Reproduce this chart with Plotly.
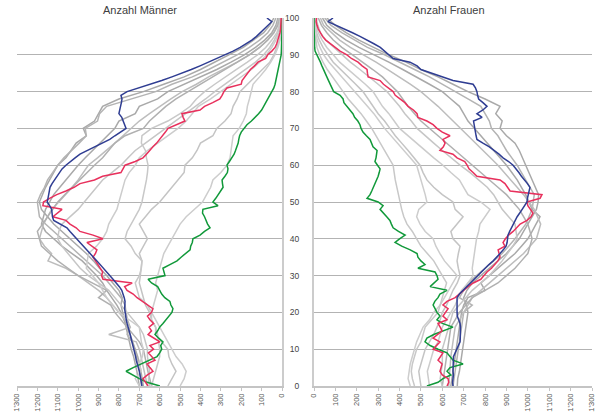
import plotly.graph_objects as go

# ---------------- data ----------------
ages = list(range(101))          # single years for coloured series
ages_g = list(range(0, 101, 2))  # every 2nd year for grey series

men_blue = [687,690,692,695,700,705,711,715,718,722,
            727,732,736,741,745,750,756,760,764,767,
            770,772,771,770,774,780,786,798,812,829,
            845,860,876,892,908,925,942,958,975,991,
            1005,1022,1040,1055,1090,1120,1126,1128,1130,1140,
            1152,1148,1145,1142,1138,1128,1116,1104,1092,1079,
            1060,1040,1015,991,955,915,880,845,820,790,
            765,772,780,786,800,795,790,788,785,790,
            760,700,650,590,540,490,445,402,360,320,
            280,240,205,175,148,125,105,85,68,50,
            74]
men_red = [657,668,682,660,633,648,662,623,640,655,
           630,648,599,625,657,640,652,630,648,660,
           640,633,660,690,711,730,760,772,735,878,
           885,880,893,905,915,927,915,908,930,957,
           878,927,991,1010,1040,1060,1124,1100,1079,1173,
           1170,1140,1105,1060,1020,991,920,880,790,780,
           770,720,682,665,650,633,615,600,584,572,
           559,520,476,485,491,402,380,340,305,294,
           285,270,200,196,182,170,155,135,118,80,
           70,50,34,26,20,14,10,7,5,3,
           4]
men_green = [599,662,700,735,765,730,690,650,613,600,
             590,595,584,605,623,610,600,584,570,555,
             540,535,545,550,575,590,599,610,640,657,
             574,578,584,550,515,495,470,451,448,440,
             437,402,380,353,365,372,380,390,388,314,
             339,325,314,300,289,292,294,280,268,265,
             270,258,245,235,228,221,215,212,208,200,
             185,172,150,130,115,100,90,78,70,60,
             50,40,34,30,26,22,20,15,10,6,
             4,3,2,1,1,1,0,0,0,0,
             0]

men_grey = [
    [700,705,712,720,728,740,748,756,765,772,780,790,784,800,830,860,895,925,960,1000,1040,1085,1120,1150,1180,1190,1175,1160,1140,1120,1100,1060,1035,1010,960,975,920,900,880,800,680,580,480,400,330,260,190,140,90,60,40],
    [690,692,698,705,712,722,735,760,745,758,765,770,790,820,850,880,920,960,1000,1040,1080,1120,1160,1190,1195,1200,1185,1165,1150,1125,1100,1070,1030,995,960,965,905,895,860,740,620,540,440,360,290,220,160,110,70,45,30],
    [680,685,690,698,708,720,732,745,760,775,790,810,835,860,880,910,945,980,1030,1080,1120,1160,1180,1170,1160,1140,1120,1090,1060,1030,1000,965,930,895,860,820,800,720,700,610,560,480,400,320,250,185,130,85,50,30,20],
    [660,668,675,682,690,700,715,850,745,770,800,830,860,900,950,1000,1060,1148,1130,1165,1190,1180,1170,1150,1130,1095,1060,1030,1000,975,950,905,860,820,780,740,700,650,600,545,490,420,360,290,220,160,110,70,40,25,15],
    [640,650,658,665,672,680,700,730,760,790,820,840,900,860,930,1000,1050,1100,1140,1180,1190,1200,1175,1150,1125,1100,1065,1030,995,960,920,880,850,820,770,680,650,610,570,520,460,400,340,280,220,160,110,70,40,20,10],
    [650,655,650,655,660,660,670,680,700,730,760,790,820,850,900,950,990,1020,1050,1080,1100,1095,1080,1040,1000,970,940,910,880,835,790,755,720,670,620,570,520,470,420,375,330,280,230,180,130,90,60,38,20,10,5],
    [700,720,690,700,685,680,690,695,700,750,800,830,860,880,900,930,960,955,950,910,880,860,850,830,810,800,790,780,770,750,720,700,660,610,560,510,470,440,410,350,300,250,200,150,110,75,50,30,15,8,5],
    [560,540,520,540,555,560,590,620,620,640,650,670,680,690,700,695,690,687,700,680,660,680,700,670,640,600,570,540,510,480,476,440,417,400,339,320,280,250,240,220,206,170,130,95,60,40,25,12,6,3,2],
    [500,480,470,490,520,540,560,580,600,620,640,630,620,610,620,610,600,590,580,560,540,520,500,470,430,390,370,350,339,300,270,255,250,245,240,210,190,175,170,160,150,142,110,80,55,35,20,10,5,3,1],
    [640,630,620,610,600,600,605,610,620,640,640,660,700,710,720,700,690,687,720,740,770,760,740,720,700,687,680,670,665,660,657,665,670,690,687,640,560,500,450,420,380,330,280,225,170,120,80,50,25,14,8],
]

women_blue = [650,648,650,652,650,651,650,650,652,660,
              668,675,683,684,685,686,685,683,676,670,
              669,669,668,667,669,680,697,715,735,748,
              765,783,800,818,838,856,870,885,898,903,
              905,907,915,923,931,940,950,962,973,985,
              996,998,1001,1005,1010,998,982,970,958,945,
              931,910,884,865,845,820,790,762,758,755,
              753,750,746,786,762,790,809,790,770,765,
              762,755,744,650,600,557,500,482,449,370,
              350,335,310,280,250,215,180,140,100,65,
              89]
women_red = [622,630,627,600,589,595,599,580,590,603,
             557,575,589,557,580,599,590,580,622,603,
             615,627,603,622,660,680,697,720,745,780,
             795,809,830,847,860,870,865,861,893,884,
             895,910,931,950,964,996,1015,1024,1010,1000,
             996,1057,1066,917,905,893,870,762,744,725,
             716,705,669,650,589,605,613,603,636,600,
             575,557,528,486,482,465,440,425,402,380,
             370,346,325,309,253,250,248,225,206,175,
             154,122,100,75,55,40,28,20,14,10,
             12]
women_green = [528,580,603,640,622,636,697,650,636,622,
               580,543,519,528,560,603,650,600,575,589,
               575,566,557,565,580,589,622,543,560,580,
               575,566,486,519,500,486,482,450,410,379,
               400,426,395,370,362,355,340,325,309,323,
               300,248,262,270,278,287,295,300,305,309,
               297,285,290,293,295,276,268,262,245,229,
               220,215,205,190,182,168,155,140,136,122,
               92,85,75,68,60,51,45,37,30,22,
               14,5,3,2,1,1,0,0,0,0,
               0]

women_grey = [
    [670,672,680,684,690,695,700,705,710,715,720,712,700,715,740,780,820,860,900,930,960,980,1000,1020,1040,1048,1050,1035,1020,1005,990,975,960,940,900,870,880,850,870,800,720,650,580,500,430,350,280,210,150,100,60],
    [650,655,660,665,670,675,680,685,690,695,700,740,680,700,720,760,800,840,880,910,940,965,990,1005,1020,1025,1030,1010,990,970,950,925,900,880,860,830,820,800,780,720,660,600,540,470,400,330,250,190,130,80,50],
    [640,645,650,655,660,665,670,675,680,685,690,700,720,800,780,820,860,900,940,970,1000,1020,1040,1057,1020,1005,990,970,950,925,900,870,840,810,780,750,720,700,680,640,600,540,480,415,350,280,210,150,100,60,40],
    [630,632,635,638,640,645,650,655,660,680,700,720,740,780,820,860,900,940,980,1010,1040,1050,1060,1045,1030,1005,980,950,920,890,860,825,790,755,720,685,650,615,580,540,500,450,400,345,290,230,170,120,80,45,30],
    [600,605,610,615,620,625,630,635,640,660,680,710,740,800,860,900,940,970,1000,1010,1020,1010,1000,980,960,930,900,860,820,780,740,700,660,620,580,540,500,470,440,415,390,355,320,275,230,180,130,90,60,35,20],
    [600,590,595,600,600,600,610,620,630,640,650,680,710,740,780,820,850,880,905,930,950,945,940,910,880,860,840,810,770,730,683,640,600,560,520,482,455,425,400,370,341,300,260,215,170,130,90,55,30,18,10],
    [540,535,530,540,550,560,580,590,600,620,640,660,675,690,720,744,740,744,750,755,760,770,776,800,823,780,720,700,680,640,603,560,520,480,440,400,375,350,320,300,276,240,200,160,120,90,60,38,20,10,6],
    [500,495,490,500,510,520,540,560,575,590,600,620,635,650,670,683,675,669,675,683,650,640,669,697,660,650,600,560,528,510,496,470,440,410,380,355,330,300,275,250,229,195,160,125,90,65,42,25,12,6,4],
    [450,440,445,450,460,470,480,495,510,540,560,590,610,630,650,669,640,610,589,570,557,520,496,480,490,528,520,510,500,490,480,450,420,390,360,330,305,280,250,220,190,160,130,100,70,45,28,15,8,4,2],
    [470,460,455,460,470,480,500,510,520,550,580,590,600,610,620,600,580,560,530,500,480,460,435,420,410,402,395,388,380,375,370,350,330,310,290,270,245,220,190,160,136,110,85,62,42,26,14,7,3,2,1],
]

x_tick_vals = [0, 100, 200, 300, 400, 500, 600, 700, 800, 900, 1000, 1100, 1200, 1300]
x_tick_text = ["0", "100", "200", "300", "400", "500", "600", "700", "800", "900",
               "1'000", "1'100", "1'200", "1'300"]
y_tick_vals = [0, 10, 20, 30, 40, 50, 60, 70, 80, 90, 100]
titles = ["Anzahl Männer", "Anzahl Frauen"]

# ---------------- styling ----------------
grey_cols = ["#a9a9a9", "#b4b4b4", "#a9a9a9", "#bdbdbd", "#b0b0b0",
             "#c6c6c6", "#cccccc", "#c4c4c4", "#cdcdcd", "#c8c8c8"]
BLUE, RED, GREEN = "#2f3d92", "#e8305c", "#11993a"
FONT = "Liberation Sans, Arial, sans-serif"

fig = go.Figure()

def add_panel(greys, blue, red, green, xa, ya):
    for vals, col in zip(greys, grey_cols):
        fig.add_trace(go.Scatter(x=vals, y=ages_g, mode="lines",
                                 line=dict(color=col, width=1.5),
                                 xaxis=xa, yaxis=ya, hoverinfo="skip"))
    for vals, col in ((green, GREEN), (red, RED), (blue, BLUE)):
        fig.add_trace(go.Scatter(x=vals, y=ages, mode="lines",
                                 line=dict(color=col, width=1.5),
                                 xaxis=xa, yaxis=ya))

add_panel(men_grey, men_blue, men_red, men_green, "x", "y")
add_panel(women_grey, women_blue, women_red, women_green, "x2", "y2")

W, H = 603, 418
ml, mr, mt, mb = 17, 11, 18, 32
pw = W - ml - mr

def px(x):
    return (x - ml) / pw

xcommon = dict(tickvals=x_tick_vals, ticktext=x_tick_text, tickangle=-90,
               ticks="outside", ticklen=3, tickcolor="#c4c4c4", tickwidth=1,
               showgrid=False, zeroline=False, showline=True, automargin=False,
               linecolor="#c4c4c4", linewidth=1.5,
               tickfont=dict(family=FONT, size=7.5, color="#555555"))
ycommon = dict(range=[0, 100], tickvals=y_tick_vals, showgrid=True,
               gridcolor="#b3b3b3", gridwidth=1, zeroline=False, automargin=False,
               showline=True, linecolor="#cccccc", linewidth=2, ticks="",
               tickfont=dict(family=FONT, size=8.5, color="#444444"))

fig.update_layout(
    width=W, height=H,
    margin=dict(l=ml, r=mr, t=mt, b=mb, autoexpand=False),
    paper_bgcolor="white", plot_bgcolor="white",
    showlegend=False,
    xaxis=dict(domain=[0, px(282)], range=[1300, 0], anchor="y", **xcommon),
    xaxis2=dict(domain=[px(314), 1.0], range=[0, 1300], anchor="y2", **xcommon),
    yaxis=dict(anchor="x", side="right", showticklabels=False, **ycommon),
    yaxis2=dict(anchor="x2", side="left", showticklabels=True,
                ticklabelstandoff=11, **ycommon),
    annotations=[
        dict(text=titles[0], x=px(140), y=1.0, xref="paper", yref="paper",
             yshift=8, showarrow=False, xanchor="center", yanchor="middle",
             font=dict(family=FONT, size=11, color="#404040")),
        dict(text=titles[1], x=px(449), y=1.0, xref="paper", yref="paper",
             yshift=8, showarrow=False, xanchor="center", yanchor="middle",
             font=dict(family=FONT, size=11, color="#404040")),
    ],
)

# remove the browser's default 8px page margin so the figure sits at (0, 0)
fig.write_html("out.html",
               config={"displayModeBar": False, "staticPlot": True},
               post_script="document.body.style.margin='0px';document.body.style.overflow='hidden';")
